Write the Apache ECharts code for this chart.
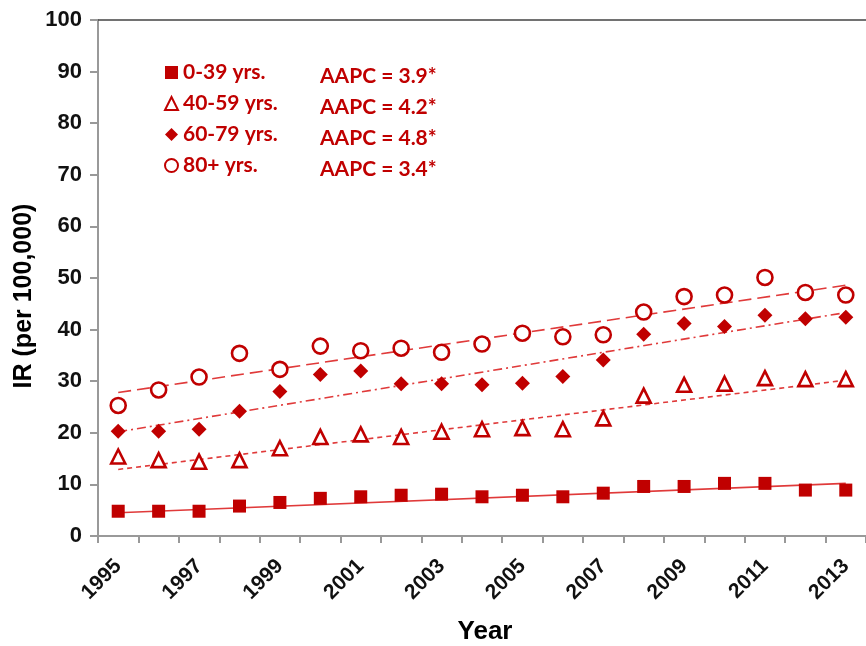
<!DOCTYPE html>
<html>
<head>
<meta charset="utf-8">
<script src="https://cdn.jsdelivr.net/npm/echarts@6/dist/echarts.min.js"></script>
<style>
  html, body { margin: 0; padding: 0; background: #fff; }
  #chart { width: 866px; height: 646px; }
</style>
</head>
<body>
<div id="chart"></div>
<script>
// years on the x axis
var years = ['1995', '1996', '1997', '1998', '1999', '2000', '2001', '2002', '2003', '2004',
  '2005', '2006', '2007', '2008', '2009', '2010', '2011', '2012', '2013']

// incidence rates per age group (per 100,000)
var age0to39 = [4.8, 4.8, 4.8, 5.8, 6.5, 7.3, 7.6, 7.9, 8.1, 7.6, 7.9, 7.6, 8.3, 9.6, 9.6, 10.2, 10.2, 8.9, 8.9]
var age40to59 = [15.4, 14.7, 14.4, 14.7, 17.0, 19.2, 19.7, 19.2, 20.2, 20.7, 20.9, 20.7, 22.8, 27.2, 29.3, 29.5, 30.6, 30.4, 30.4]
var age60to79 = [20.3, 20.3, 20.7, 24.2, 28.0, 31.3, 32.0, 29.5, 29.5, 29.3, 29.6, 30.9, 34.1, 39.1, 41.2, 40.6, 42.8, 42.1, 42.4]
var age80plus = [25.3, 28.3, 30.8, 35.4, 32.3, 36.8, 35.9, 36.4, 35.6, 37.2, 39.3, 38.6, 39.0, 43.4, 46.4, 46.7, 50.1, 47.2, 46.7]

// fitted trend lines: value at 1995 and at 2013
var trend0to39 = [4.5, 10.2]
var trend40to59 = [12.9, 30.2]
var trend60to79 = [20.2, 43.3]
var trend80plus = [27.8, 48.6]

var groupNames = ['0-39 yrs.', '40-59 yrs.', '60-79 yrs.', '80+ yrs.']
var aapc = ['3.9*', '4.2*', '4.8*', '3.4*']

var red = '#c00000'
var trendRed = '#e03a3a'

// 趋势线只有首尾两个点，中间为空
function trendData (ends) {
  var arr = years.map(function () { return null })
  arr[0] = ends[0]
  arr[arr.length - 1] = ends[1]
  return arr
}

function trendSeries (ends, dash) {
  return {
    type: 'line',
    data: trendData(ends),
    connectNulls: true,
    symbol: 'none',
    silent: true,
    z: 1,
    lineStyle: { color: trendRed, width: 1.6, type: dash }
  }
}

var chart = echarts.init(document.getElementById('chart'))

var graphics = aapc.map(function (v, i) {
  return {
    type: 'text',
    x: 320,
    y: 76 + i * 31,
    style: {
      text: 'AAPC = ' + v,
      fill: red,
      font: 'bold 21px Lato',
      verticalAlign: 'middle'
    }
  }
})
// y 轴标题
graphics.push({
  type: 'text',
  x: 24,
  y: 296,
  rotation: Math.PI / 2,
  style: {
    text: 'IR (per 100,000)',
    fill: '#000',
    font: 'bold 25px "Liberation Sans"',
    align: 'center',
    verticalAlign: 'middle'
  }
})
// x 轴标题
graphics.push({
  type: 'text',
  x: 485,
  y: 632,
  style: {
    text: 'Year',
    fill: '#000',
    font: 'bold 26px "Liberation Sans"',
    align: 'center',
    verticalAlign: 'middle'
  }
})

var option = {
  animation: false,
  grid: { left: 98, top: 20, right: 0, bottom: 110, outerBoundsMode: 'none' },
  legend: {
    data: groupNames,
    orient: 'vertical',
    left: 159,
    top: 57,
    itemGap: 10,
    itemWidth: 13,
    itemHeight: 13,
    textStyle: { color: red, fontFamily: 'Lato', fontWeight: 'bold', fontSize: 21 },
    selectedMode: false
  },
  graphic: graphics,
  xAxis: [
    {
      type: 'category',
      data: years,
      boundaryGap: true,
      axisLine: { lineStyle: { color: '#999', width: 2 } },
      axisTick: { show: true, interval: 0, length: 7, lineStyle: { color: '#999', width: 2 } },
      axisLabel: {
        interval: 1,
        rotate: 45,
        margin: 27,
        color: '#111',
        fontFamily: 'Liberation Sans',
        fontWeight: 'bold',
        fontSize: 21
      }
    },
    {
      // 顶部边框
      type: 'category',
      position: 'top',
      data: years,
      axisLine: { lineStyle: { color: '#444', width: 1.5 } },
      axisTick: { show: false },
      axisLabel: { show: false }
    }
  ],
  yAxis: {
    type: 'value',
    min: 0,
    max: 100,
    interval: 10,
    axisLine: { show: true, lineStyle: { color: '#999', width: 2 } },
    axisTick: { show: true, length: 8, lineStyle: { color: '#999', width: 2 } },
    splitLine: { show: false },
    axisLabel: {
      margin: 16,
      color: '#111',
      fontFamily: 'Liberation Sans',
      fontWeight: 'bold',
      fontSize: 22
    }
  },
  series: [
    trendSeries(trend0to39, 'solid'),
    trendSeries(trend40to59, [5, 4]),
    trendSeries(trend60to79, [9, 4, 2, 4]),
    trendSeries(trend80plus, [13, 6]),
    {
      name: groupNames[0],
      type: 'scatter',
      data: age0to39,
      symbol: 'rect',
      symbolSize: 13,
      z: 3,
      itemStyle: { color: red, opacity: 1 }
    },
    {
      name: groupNames[1],
      type: 'scatter',
      data: age40to59,
      symbol: 'triangle',
      symbolSize: 14,
      z: 3,
      itemStyle: { color: '#fff', borderColor: red, borderWidth: 2.6, opacity: 1 }
    },
    {
      name: groupNames[2],
      type: 'scatter',
      data: age60to79,
      symbol: 'diamond',
      symbolSize: 15,
      z: 3,
      itemStyle: { color: red, opacity: 1 }
    },
    {
      name: groupNames[3],
      type: 'scatter',
      data: age80plus,
      symbol: 'circle',
      symbolSize: 15,
      z: 3,
      itemStyle: { color: '#fff', borderColor: red, borderWidth: 2.6, opacity: 1 }
    }
  ]
}

chart.setOption(option)
</script>
</body>
</html>
